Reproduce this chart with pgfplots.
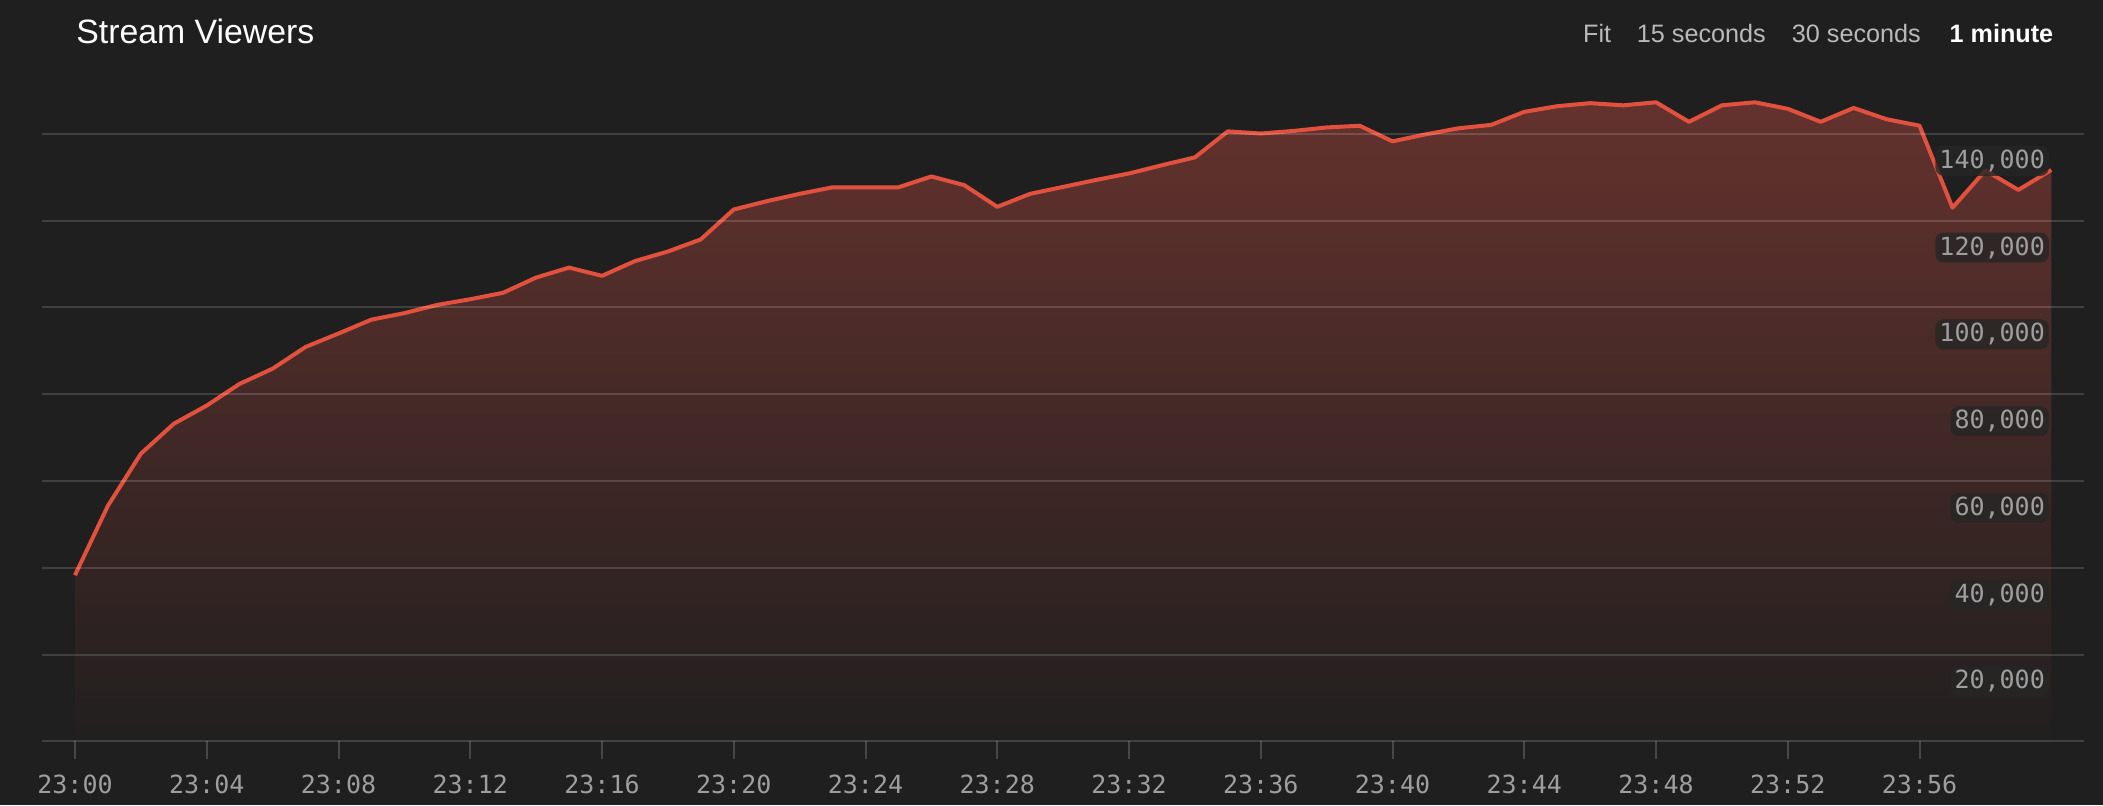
\documentclass[border=0pt]{standalone}
\usepackage{fontspec}
\setmainfont{Liberation Sans}
\newfontfamily\monofont{DejaVu Sans Mono}
\usepackage{pgfplots}
\usepackage{pgfplotstable}
\pgfplotsset{compat=1.18}
\definecolor{bg}{RGB}{31,31,31}
\definecolor{linered}{RGB}{226,80,62}
\definecolor{filltop}{RGB}{100,50,45}
\definecolor{fillbot}{RGB}{33,31,31}
\definecolor{tickgray}{RGB}{158,158,158}
\definecolor{btngray}{RGB}{185,185,185}
\definecolor{halo}{RGB}{38,38,38}

\pgfplotstableread{
m v
0 38300
1 54300
2 66300
3 73200
4 77400
5 82400
6 85900
7 90900
8 94000
9 97200
10 98700
11 100600
12 101900
13 103400
14 106900
15 109200
16 107300
17 110700
18 112900
19 115700
20 122600
21 124500
22 126200
23 127700
24 127700
25 127700
26 130200
27 128200
28 123200
29 126200
30 127800
31 129400
32 130900
33 132800
34 134600
35 140600
36 140100
37 140700
38 141500
39 141900
40 138300
41 139900
42 141300
43 142100
44 145100
45 146400
46 147100
47 146600
48 147300
49 142800
50 146600
51 147300
52 145800
53 142800
54 146000
55 143400
56 141900
57 123000
58 131600
59 127100
60 131700
}\viewers

\begin{document}
\begin{tikzpicture}
\useasboundingbox (0,0) rectangle (1051.5pt,402.5pt);
\fill[bg] (0,0) rectangle (1051.5pt,402.5pt);
\node[anchor=base west, inner sep=0, text=white, font=\fontsize{16.9}{19}\selectfont] at (38pt,380.85pt) {Stream Viewers};
\node[anchor=base west, inner sep=0, text=btngray, font=\fontsize{12.6}{14}\selectfont] at (791.35pt,381.4pt) {Fit};
\node[anchor=base west, inner sep=0, text=btngray, font=\fontsize{12.6}{14}\selectfont] at (818.25pt,381.4pt) {15 seconds};
\node[anchor=base west, inner sep=0, text=btngray, font=\fontsize{12.6}{14}\selectfont] at (895.75pt,381.4pt) {30 seconds};
\node[anchor=base west, inner sep=0, text=white, font=\bfseries\fontsize{12.6}{14}\selectfont] at (974.6pt,381.4pt) {1 minute};
\begin{axis}[
  at={(21.03pt,31.85pt)}, anchor=south west,
  width=1021.1pt, height=347.05pt, scale only axis,
  xmin=-1, xmax=61, ymin=0, ymax=160000,
  scaled y ticks=false,
  clip=false,
  no markers,
  axis line style={draw=none},
  axis on top,
  ymajorgrids,
  grid style={white, opacity=0.15, line width=1pt},
  ytick={20000,40000,...,140000},
  yticklabels={{20,000},{40,000},{60,000},{80,000},{100,000},{120,000},{140,000}},
  yticklabel pos=right,
  ytick style={draw=none},
  yticklabel style={anchor=base east, xshift=-26.5pt, yshift=-17.2pt,
    font=\monofont\fontsize{12.5}{14}\selectfont, text=tickgray,
    fill=halo, fill opacity=0.8, text opacity=1, rounded corners=4pt, inner sep=2pt},
  xtick={0,4,...,56},
  xticklabels={23:00,23:04,23:08,23:12,23:16,23:20,23:24,23:28,23:32,23:36,23:40,23:44,23:48,23:52,23:56},
  xtick pos=left, tick align=outside, major tick length=9pt,
  xtick style={draw=white, draw opacity=0.18, line width=1pt},
  xticklabel style={anchor=base, yshift=-17pt,
    font=\monofont\fontsize{12.5}{14}\selectfont, text=tickgray},
]
\addplot[draw=none, top color=filltop, bottom color=fillbot] table[x=m,y=v]{\viewers} \closedcycle;
\addplot[white, opacity=0.15, line width=1pt] coordinates {(-1,0) (61,0)};
\addplot[linered, line width=2pt, line join=round] table[x=m,y=v]{\viewers};
\end{axis}
\end{tikzpicture}
\end{document}
